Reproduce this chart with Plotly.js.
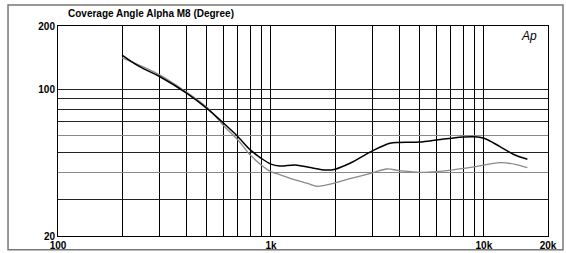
<!DOCTYPE html>
<html>
<head>
<meta charset="utf-8">
<script src="https://cdn.plot.ly/plotly-3.0.1.min.js"></script>
<style>html,body{margin:0;padding:0;background:#fff;}#chart{width:566px;height:253px;}</style>
</head>
<body>
<div id="chart"></div>
<script>
// Frequencies (Hz) and coverage angles (degrees)
const freqBlack = [200, 242, 300, 400, 500, 600, 700, 800, 900, 1000, 1100, 1300, 1500, 1830, 2000, 2350, 3000, 3620, 4000, 5000, 6000, 7000, 8000, 9000, 10000, 11900, 14000, 16000];
const angleBlack = [145.5, 128, 115, 96, 81, 68.8, 59.4, 51.4, 46.9, 44, 43.1, 43.6, 42.5, 41.2, 41.6, 44.4, 50.9, 55.3, 55.8, 56, 57.3, 58.4, 59.2, 59.4, 58.4, 53.3, 48.6, 46.4];
const freqGray = [200, 242, 300, 400, 500, 600, 700, 800, 900, 1000, 1100, 1300, 1500, 1650, 2000, 2350, 3000, 3500, 4000, 5000, 6000, 7000, 9000, 11900, 14000, 16000];
const angleGray = [141, 130, 117, 97, 82, 67, 57.3, 48.6, 43.6, 40.5, 39.2, 37, 35.5, 34.5, 35.8, 37.5, 40, 41.7, 41, 40.2, 40.5, 41.2, 42.7, 44.7, 43.9, 42.3];

const xTickVals = [100, 1000, 10000, 20000];
const xTickText = ['100', '1k', '10k', '20k'];
const xGridMinor = [200, 300, 400, 500, 600, 700, 800, 900, 2000, 3000, 4000, 5000, 6000, 7000, 8000, 9000];
const yTickVals = [20, 30, 50, 70, 80, 90, 100, 200];
const yTickText = ['20', '', '', '', '', '', '100', '200'];
const yGridLight = [40, 60];

const font = {family:'Liberation Sans, Arial, sans-serif', size:10, color:'#000'};

Plotly.newPlot('chart', [
  {x: freqGray, y: angleGray, type:'scatter', mode:'lines', line:{color:'#8a8a8a', width:1.3, shape:'spline', smoothing:1}, hoverinfo:'skip'},
  {x: freqBlack, y: angleBlack, type:'scatter', mode:'lines', line:{color:'#000', width:1.5, shape:'spline', smoothing:1}, hoverinfo:'skip'}
], {
  width:566, height:253,
  margin:{l:58, r:18, t:26, b:17},
  paper_bgcolor:'#fff', plot_bgcolor:'#fff',
  showlegend:false,
  title:{text:'<b>Coverage Angle Alpha M8 (Degree)</b>', font:font, x:68/566, xanchor:'left', xref:'container', y:1-13/253, yanchor:'middle', yref:'container'},
  xaxis:{type:'log', range:[2, Math.log10(20000)], tickmode:'array', tickvals:xTickVals, ticktext:xTickText.map(t=>'<b>'+t+'</b>'),
    showgrid:true, gridcolor:'#000', gridwidth:1,
    minor:{tickmode:'array', tickvals:xGridMinor, showgrid:true, gridcolor:'#000', gridwidth:1, ticks:''},
    zeroline:false, showline:true, linecolor:'#000', linewidth:1, mirror:true, ticks:'', tickfont:font, fixedrange:true},
  yaxis:{type:'log', range:[Math.log10(20), Math.log10(200)], tickmode:'array', tickvals:yTickVals, ticktext:yTickText.map(t=>t?'<b>'+t+'</b>':''),
    showgrid:true, gridcolor:'#222', gridwidth:1,
    minor:{tickmode:'array', tickvals:yGridLight, showgrid:true, gridcolor:'#888', gridwidth:1, ticks:''},
    zeroline:false, showline:true, linecolor:'#000', linewidth:1, mirror:true, ticks:'', tickfont:font, fixedrange:true},
  shapes:[{type:'rect', xref:'paper', yref:'paper', x0:-0.102, x1:1.0306, y0:-0.066, y1:1.1, line:{color:'#777', width:1.5}}],
  annotations:[{text:'<i>Ap</i>', xref:'paper', yref:'paper', x:0.982, y:0.995, xanchor:'right', yanchor:'top', showarrow:false, font:{family:'Liberation Sans, Arial, sans-serif', size:12, color:'#000'}}]
}, {staticPlot:true, displayModeBar:false});
</script>
</body>
</html>
